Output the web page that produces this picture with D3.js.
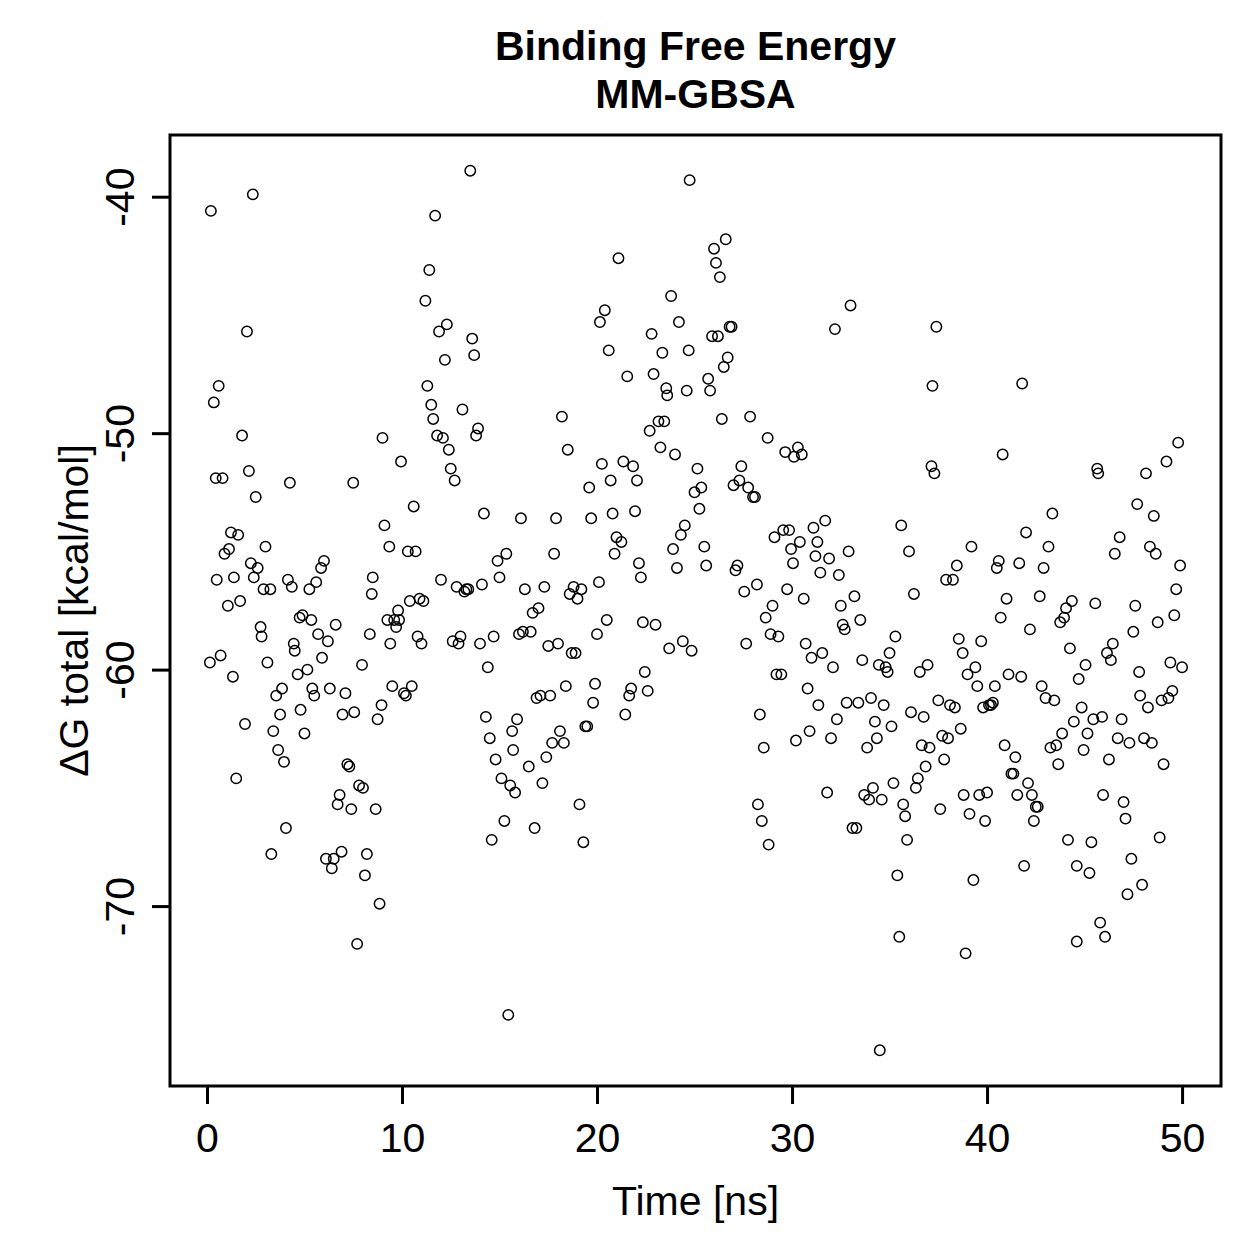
<!DOCTYPE html>
<html>
<head>
<meta charset="utf-8">
<script src="https://cdn.jsdelivr.net/npm/d3@7"></script>
<style>
  body { margin: 0; background: #fff; }
  text { font-family: "Liberation Sans", Arial, sans-serif; fill: #000; }
</style>
</head>
<body>
<div class="viz"></div>
<script>
// time [ns] of each snapshot
const time = [
  0.2, 0.15, 0.35, 0.45, 0.5, 0.6, 0.7, 0.8, 0.9, 1.07, 1.13, 1.23, 1.33, 1.38, 1.5, 1.6, 1.7, 1.8, 1.95, 2.05,
  2.15, 2.25, 2.35, 2.4, 2.5, 2.6, 2.75, 2.8, 2.9, 3.0, 3.1, 3.25, 3.3, 3.4, 3.55, 3.65, 3.75, 3.85, 3.95, 4.05,
  4.15, 4.25, 4.35, 4.45, 4.5, 4.65, 4.75, 4.8, 4.9, 5.0, 5.15, 5.25, 5.35, 5.4, 5.5, 5.6, 5.7, 5.85, 5.9, 6.0,
  6.1, 6.2, 6.3, 6.4, 6.5, 6.6, 6.7, 6.8, 6.9, 6.95, 7.1, 7.2, 7.3, 7.4, 7.5, 7.55, 7.7, 7.8, 7.95, 8.0,
  8.1, 8.2, 8.35, 8.45, 8.5, 8.65, 8.75, 8.85, 8.95, 9.0, 9.1, 9.25, 9.35, 9.4, 9.5, 9.6, 9.7, 9.8, 9.85, 9.95,
  10.1, 10.2, 10.3, 10.4, 10.5, 10.6, 10.7, 10.8, 10.9, 11.0, 11.1, 11.2, 11.3, 11.4, 11.5, 11.6, 11.7, 11.8, 11.9, 12.0,
  12.1, 12.2, 12.3, 12.4, 12.5, 12.6, 12.7, 12.8, 12.9, 13.0, 13.1, 13.2, 13.3, 13.4, 13.5, 13.6, 13.7, 13.8, 13.9, 14.0,
  14.1, 14.2, 14.3, 14.4, 14.5, 14.6, 14.7, 14.8, 14.9, 15.0, 15.1, 15.25, 15.35, 15.45, 15.55, 15.65, 15.7, 15.8, 15.9, 16.0,
  16.1, 16.2, 16.3, 16.5, 16.6, 16.7, 16.8, 16.9, 17.0, 17.1, 17.2, 17.3, 17.4, 17.5, 17.6, 17.7, 17.8, 17.9, 18.0, 18.1,
  18.2, 18.3, 18.4, 18.5, 18.6, 18.7, 18.8, 18.9, 19.0, 19.1, 19.2, 19.3, 19.4, 19.5, 19.6, 19.7, 19.8, 19.9, 20.0, 20.1,
  20.15, 20.25, 20.4, 20.5, 20.6, 20.7, 20.8, 20.9, 21.0, 21.1, 21.25, 21.35, 21.45, 21.55, 21.65, 21.75, 21.85, 21.95, 22.05, 22.15,
  22.25, 22.35, 22.45, 22.6, 22.7, 22.8, 22.9, 23.0, 23.15, 23.25, 23.35, 23.45, 23.55, 23.6, 23.7, 23.8, 23.9, 24.0, 24.1, 24.2,
  24.3, 24.4, 24.5, 24.6, 24.7, 24.75, 24.85, 25.0, 25.15, 25.25, 25.35, 25.5, 25.6, 25.7, 25.8, 25.9, 26.0, 26.1, 26.2, 26.3,
  26.4, 26.5, 26.6, 26.7, 26.8, 26.9, 27.0, 27.1, 27.2, 27.3, 27.4, 27.55, 27.65, 27.75, 27.85, 28.0, 28.1, 28.2, 28.25, 28.35,
  28.45, 28.55, 28.65, 28.75, 28.8, 28.9, 29.0, 29.1, 29.2, 29.3, 29.45, 29.55, 29.65, 29.75, 29.85, 29.95, 30.05, 30.1, 30.2, 30.3,
  30.4, 30.5, 30.6, 30.7, 30.8, 30.9, 31.0, 31.1, 31.2, 31.3, 31.35, 31.45, 31.55, 31.7, 31.8, 31.9, 32.0, 32.1, 32.2, 32.3,
  32.4, 32.5, 32.6, 32.7, 32.8, 32.9, 33.0, 33.1, 33.2, 33.3, 33.4, 33.5, 33.6, 33.7, 33.85, 33.95, 34.05, 34.15, 34.25, 34.35,
  34.45, 34.5, 34.6, 34.7, 34.8, 34.9, 35.0, 35.1, 35.2, 35.3, 35.4, 35.5, 35.6, 35.7, 35.8, 35.9, 36.0, 36.1, 36.25, 36.35,
  36.45, 36.55, 36.65, 36.75, 36.85, 36.95, 37.05, 37.15, 37.2, 37.3, 37.4, 37.5, 37.6, 37.7, 37.8, 37.9, 38.0, 38.1, 38.25, 38.35,
  38.45, 38.55, 38.65, 38.75, 38.8, 38.9, 39.0, 39.1, 39.2, 39.3, 39.4, 39.5, 39.6, 39.7, 39.8, 39.9, 40.0, 40.1, 40.2, 40.3,
  40.4, 40.5, 40.6, 40.7, 40.8, 40.9, 41.0, 41.1, 41.25, 41.35, 41.45, 41.55, 41.65, 41.75, 41.8, 41.9, 42.0, 42.1, 42.2, 42.3,
  42.4, 42.5, 42.6, 42.7, 42.8, 42.9, 43.0, 43.15, 43.25, 43.35, 43.45, 43.55, 43.65, 43.75, 43.85, 43.95, 44.05, 44.15, 44.25, 44.35,
  44.45, 44.6, 44.6, 44.7, 44.85, 44.95, 45.05, 45.15, 45.25, 45.35, 45.45, 45.55, 45.65, 45.7, 45.8, 45.9, 45.95, 46.05, 46.15, 46.25,
  46.35, 46.45, 46.55, 46.7, 46.8, 46.9, 47.0, 47.1, 47.2, 47.3, 47.4, 47.5, 47.6, 47.7, 47.8, 47.85, 47.95, 48.05, 48.15, 48.25,
  48.35, 48.45, 48.55, 48.65, 48.75, 48.85, 48.95, 49.05, 49.2, 49.3, 49.4, 49.5, 49.6, 49.7, 49.8, 49.9, 50.0
]

// ΔG total [kcal/mol], same order as time
const dG = [
  -40.6, -59.7, -48.7, -51.9, -56.2, -48.0, -59.4, -51.9, -55.1, -57.3, -54.9, -54.2, -60.3, -56.1, -64.6, -54.3, -57.1, -50.1, -62.3, -45.7,
  -51.6, -55.5, -39.9, -56.1, -52.7, -55.7, -58.2, -58.6, -56.6, -54.8, -59.7, -56.6, -67.8, -62.6, -61.1, -63.4, -61.9, -60.8, -63.9, -66.7,
  -56.2, -52.1, -56.5, -58.9, -59.2, -60.2, -57.8, -61.7, -57.7, -62.7, -60.0, -56.6, -57.9, -60.8, -61.1, -56.3, -58.5, -55.7, -59.5, -55.4,
  -68.0, -58.8, -60.8, -68.4, -68.0, -58.1, -65.7, -65.3, -67.7, -61.9, -61.0, -64.0, -64.1, -65.9, -52.1, -61.8, -71.6, -64.9, -59.8, -65.0,
  -68.7, -67.8, -58.5, -56.8, -56.1, -65.9, -62.1, -69.9, -61.5, -50.2, -53.9, -57.9, -54.8, -58.9, -60.7, -57.9, -58.2, -57.5, -57.9, -51.2,
  -61.0, -61.1, -55.0, -57.1, -60.7, -53.1, -55.0, -58.6, -57.0, -58.9, -57.1, -44.4, -48.0, -43.1, -48.8, -49.4, -40.8, -50.1, -45.7, -56.2,
  -50.2, -46.9, -45.4, -50.7, -51.5, -58.8, -52.0, -56.5, -58.9, -58.6, -49.0, -56.7, -56.6, -56.6, -38.9, -46.0, -46.7, -50.1, -49.8, -58.9,
  -56.4, -53.4, -62.0, -59.9, -62.9, -67.2, -58.6, -63.8, -55.4, -56.1, -64.6, -66.4, -55.1, -74.6, -64.9, -62.6, -63.4, -65.2, -62.1, -58.5,
  -53.6, -58.4, -56.6, -64.1, -58.4, -57.6, -66.7, -61.2, -57.4, -61.1, -64.8, -56.5, -63.7, -59.0, -61.1, -63.1, -55.1, -53.6, -58.9, -62.6,
  -49.3, -63.1, -60.7, -50.7, -56.8, -59.3, -56.5, -59.3, -57.0, -65.7, -56.6, -67.3, -62.4, -62.4, -52.3, -53.6, -61.4, -60.6, -58.5, -56.3,
  -45.3, -51.3, -44.8, -57.9, -46.5, -52.0, -53.4, -55.1, -54.4, -42.6, -54.6, -51.2, -61.9, -47.6, -61.1, -60.8, -51.4, -53.3, -52.0, -55.5,
  -56.1, -58.0, -60.1, -60.9, -49.9, -45.8, -47.5, -58.1, -49.5, -50.6, -46.6, -49.5, -48.1, -48.4, -59.1, -44.2, -54.9, -50.9, -55.7, -45.3,
  -54.3, -58.8, -53.9, -48.2, -46.5, -39.3, -59.2, -52.5, -51.5, -53.2, -52.3, -54.8, -55.6, -47.7, -48.2, -45.9, -42.2, -42.8, -45.9, -43.4,
  -49.4, -47.2, -41.8, -46.8, -45.5, -45.5, -52.2, -55.8, -55.6, -52.0, -51.4, -56.7, -58.9, -52.3, -49.3, -52.7, -52.7, -56.4, -65.7, -61.9,
  -66.4, -63.3, -57.8, -50.2, -67.4, -58.5, -57.3, -54.4, -60.2, -58.6, -60.2, -54.1, -50.8, -56.6, -54.1, -54.9, -55.5, -51.0, -63.0, -50.6,
  -54.6, -50.9, -57.0, -58.9, -60.8, -62.6, -59.5, -54.0, -55.2, -54.6, -61.5, -55.9, -59.3, -53.7, -65.2, -55.3, -62.9, -59.9, -45.6, -62.1,
  -56.0, -57.3, -58.1, -58.3, -61.4, -55.0, -44.6, -66.7, -56.9, -66.7, -61.4, -57.9, -59.6, -65.3, -63.3, -65.5, -61.2, -65.0, -62.2, -62.9,
  -59.8, -76.1, -65.5, -61.5, -59.9, -60.1, -59.3, -62.4, -64.8, -58.6, -68.7, -71.3, -53.9, -65.7, -66.2, -67.2, -55.0, -61.8, -56.8, -65.0,
  -64.6, -60.1, -63.2, -62.0, -64.1, -59.8, -63.3, -51.4, -48.0, -51.7, -45.5, -61.3, -65.9, -62.8, -63.8, -56.2, -62.9, -61.5, -56.2, -61.6,
  -55.6, -58.7, -62.5, -59.3, -65.3, -72.0, -60.2, -66.1, -54.8, -68.9, -59.9, -60.7, -65.3, -58.8, -61.6, -66.4, -65.2, -61.5, -61.5, -61.4,
  -60.7, -55.7, -55.4, -57.8, -50.9, -63.2, -57.0, -60.2, -64.4, -64.4, -63.7, -65.3, -55.5, -60.3, -47.9, -68.3, -54.2, -64.8, -58.3, -65.3,
  -66.4, -65.8, -65.8, -56.9, -60.7, -55.7, -61.2, -54.8, -63.3, -53.4, -61.3, -63.2, -64.0, -58.0, -62.7, -57.8, -57.4, -67.2, -59.1, -57.1,
  -62.2, -68.3, -71.5, -60.4, -61.6, -63.4, -59.8, -62.7, -68.6, -67.3, -62.1, -57.2, -51.5, -51.7, -70.7, -62.0, -65.3, -71.3, -59.3, -63.8,
  -59.6, -58.9, -55.1, -62.9, -54.4, -62.1, -65.6, -66.3, -69.5, -63.1, -68.0, -58.4, -57.3, -53.0, -60.1, -61.1, -69.1, -62.9, -51.7, -61.6,
  -54.8, -63.1, -53.5, -55.1, -58.0, -67.1, -61.3, -64.0, -51.2, -61.2, -59.7, -60.9, -57.7, -56.6, -50.4, -55.6, -59.9
]

const xTicks = [0, 10, 20, 30, 40, 50]
const yTicks = [-40, -50, -60, -70]
const titleLines = ["Binding Free Energy", "MM-GBSA"]

var W = 1259, H = 1259
var plotL = 170, plotR = 1221, plotT = 135, plotB = 1086
var fs = "41px"

const svg = d3.select(".viz")
  .append("svg")
  .attr("width", W)
  .attr("height", H)

// R style: pad the data range by 4% each side
const pad = (ext) => {
  const d = (ext[1] - ext[0]) * 0.04
  return [ext[0] - d, ext[1] + d]
}
var x = d3.scaleLinear().domain(pad([0.1, 50])).range([plotL, plotR])
var y = d3.scaleLinear().domain(pad([-76.12, -38.88])).range([plotB, plotT])

const pts = time.map((t, i) => ({ t: t, g: dG[i] }))

svg.append("g")
  .selectAll("circle")
  .data(pts)
  .enter()
  .append("circle")
  .attr("cx", d => x(d.t))
  .attr("cy", d => y(d.g))
  .attr("r", 5.2)
  .attr("fill", "none")
  .attr("stroke", "#000")
  .attr("stroke-width", 1.5)

// box
svg.append("rect")
  .attr("x", plotL)
  .attr("y", plotT)
  .attr("width", plotR - plotL)
  .attr("height", plotB - plotT)
  .attr("fill", "none")
  .attr("stroke", "#000")
  .attr("stroke-width", 3)

// x axis
const xAxis = svg.append("g").attr("transform", `translate(0,${plotB})`)
  .call(d3.axisBottom(x).tickValues(xTicks).tickSize(18).tickFormat(d3.format("d")))
xAxis.select(".domain").remove()
xAxis.selectAll("line").attr("stroke-width", 3)
xAxis.selectAll("text")
  .attr("y", 66)
  .attr("dy", 0)
  .style("font-size", fs)
  .style("font-family", "Liberation Sans, Arial, sans-serif")

// y axis, labels turned like R's default
const yAxis = svg.append("g").attr("transform", `translate(${plotL},0)`)
  .call(d3.axisLeft(y).tickValues(yTicks).tickSize(18).tickFormat(d => d))
yAxis.select(".domain").remove()
yAxis.selectAll("line").attr("stroke-width", 3)
yAxis.selectAll("text")
  .attr("x", null)
  .attr("dy", 0)
  .attr("transform", "translate(-36,0) rotate(-90)")
  .attr("text-anchor", "middle")
  .style("font-size", fs)
  .style("font-family", "Liberation Sans, Arial, sans-serif")

svg.append("text")
  .attr("x", (plotL + plotR) / 2)
  .attr("y", 1215)
  .attr("text-anchor", "middle")
  .style("font-size", fs)
  .text("Time [ns]")

svg.append("text")
  .attr("transform", `translate(88,${(plotT + plotB) / 2}) rotate(-90)`)
  .attr("text-anchor", "middle")
  .style("font-size", fs)
  .text("ΔG total [kcal/mol]")

svg.selectAll(".title")
  .data(titleLines)
  .enter()
  .append("text")
  .attr("class", "title")
  .attr("x", (plotL + plotR) / 2)
  .attr("y", (d, i) => 60 + i * 48)
  .attr("text-anchor", "middle")
  .style("font-size", fs)
  .style("font-weight", "bold")
  .text(d => d)
</script>
</body>
</html>
